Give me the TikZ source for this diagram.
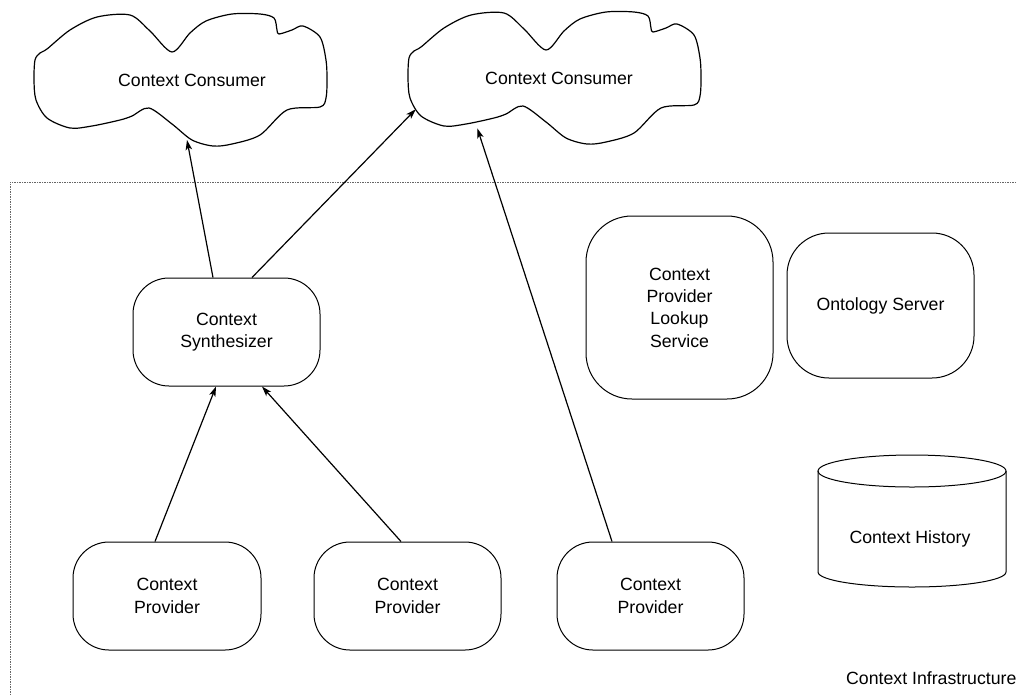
\documentclass[tikz,border=0pt]{standalone}
\usepackage{fontspec}
\setmainfont{Liberation Sans}
\usetikzlibrary{arrows.meta}
\newcommand\dfont{\fontsize{17.7}{22.3}\selectfont}
\begin{document}
\begin{tikzpicture}[x=1pt,y=-1pt,
  box/.style={draw,line width=1pt,rounded corners=#1,align=center,font=\dfont,inner sep=0pt},
  box/.default=36pt,
  lbl/.style={align=center,font=\dfont,inner sep=0pt},
  arr/.style={line width=1.2pt,-{Stealth[length=10pt,width=6.5pt,inset=2.5pt]}},
  cloudpic/.pic={\draw[line width=1.2pt] plot[smooth cycle,tension=0.5] coordinates {
    (-152,-27) (-145,-31) (-122,-50) (-95,-63) (-62,-65) (-42,-49) (-20,-28)
    (-2,-47) (14,-59) (40,-66) (68,-66) (82,-62) (85,-50) (87,-46)
    (100,-50) (111,-54) (128,-43) (134,-20) (135,0) (134,18) (128,27) (95,30)
    (68,55) (40,64) (21,66) (0,60) (-20,44) (-43,28) (-60,36) (-72,40)
    (-100,46) (-122,48) (-145,38) (-156,20) (-158,0) (-157,-20)};}
]
\useasboundingbox (0,0) rectangle (1016,694);
% infrastructure border
\draw[gray!80!black,line width=0.9pt,dash pattern=on 1.5pt off 1pt] (1016,182) -- (10,182) -- (10,694);
% clouds
\pic at (192,80) {cloudpic};
\pic at (566,78) {cloudpic};
\node[lbl] (cons1) at (192,80) {Context Consumer};
\node[lbl] (cons2) at (559,78) {Context Consumer};
\coordinate (c1a) at (187,140);
\coordinate (c2a) at (415.7,109.3);
\coordinate (c2b) at (477.3,128.3);
% boxes
\node[box,minimum width=187pt,minimum height=108pt] (synth) at (226.5,332) {Context\\Synthesizer};
\node[box=46pt,minimum width=187pt,minimum height=183pt] (lookup) at (679.5,307.5) {Context\\Provider\\Lookup\\Service};
\node[box=42pt,minimum width=187pt,minimum height=145pt] (onto) at (880.5,305.5) {Ontology Server};
\node[box,minimum width=188pt,minimum height=108pt] (prov1) at (167,596) {Context\\Provider};
\node[box,minimum width=187pt,minimum height=108pt] (prov2) at (407.5,596) {Context\\Provider};
\node[box,minimum width=187pt,minimum height=108pt] (prov3) at (650.5,596) {Context\\Provider};
% cylinder
\draw[line width=1pt] (818,471) -- (818,572) arc[start angle=180,end angle=0,x radius=94,y radius=15] -- (1006,471);
\draw[line width=1pt] (912,471) ellipse[x radius=94,y radius=16];
\node[lbl] (hist) at (910,539) {Context History};
\node[lbl,anchor=west] (infra) at (846,678) {Context Infrastructure};
% arrows
\draw[arr] ([xshift=-13.5pt]synth.north) -- (c1a);
\draw[arr] ([xshift=25.5pt]synth.north) -- (c2a);
\draw[arr] ([xshift=-38.5pt]prov3.north) -- (c2b);
\draw[arr] ([xshift=-12pt]prov1.north) -- ([xshift=-10.5pt]synth.south);
\draw[arr] ([xshift=-6.5pt]prov2.north) -- ([xshift=35.5pt]synth.south);
\end{tikzpicture}
\end{document}
